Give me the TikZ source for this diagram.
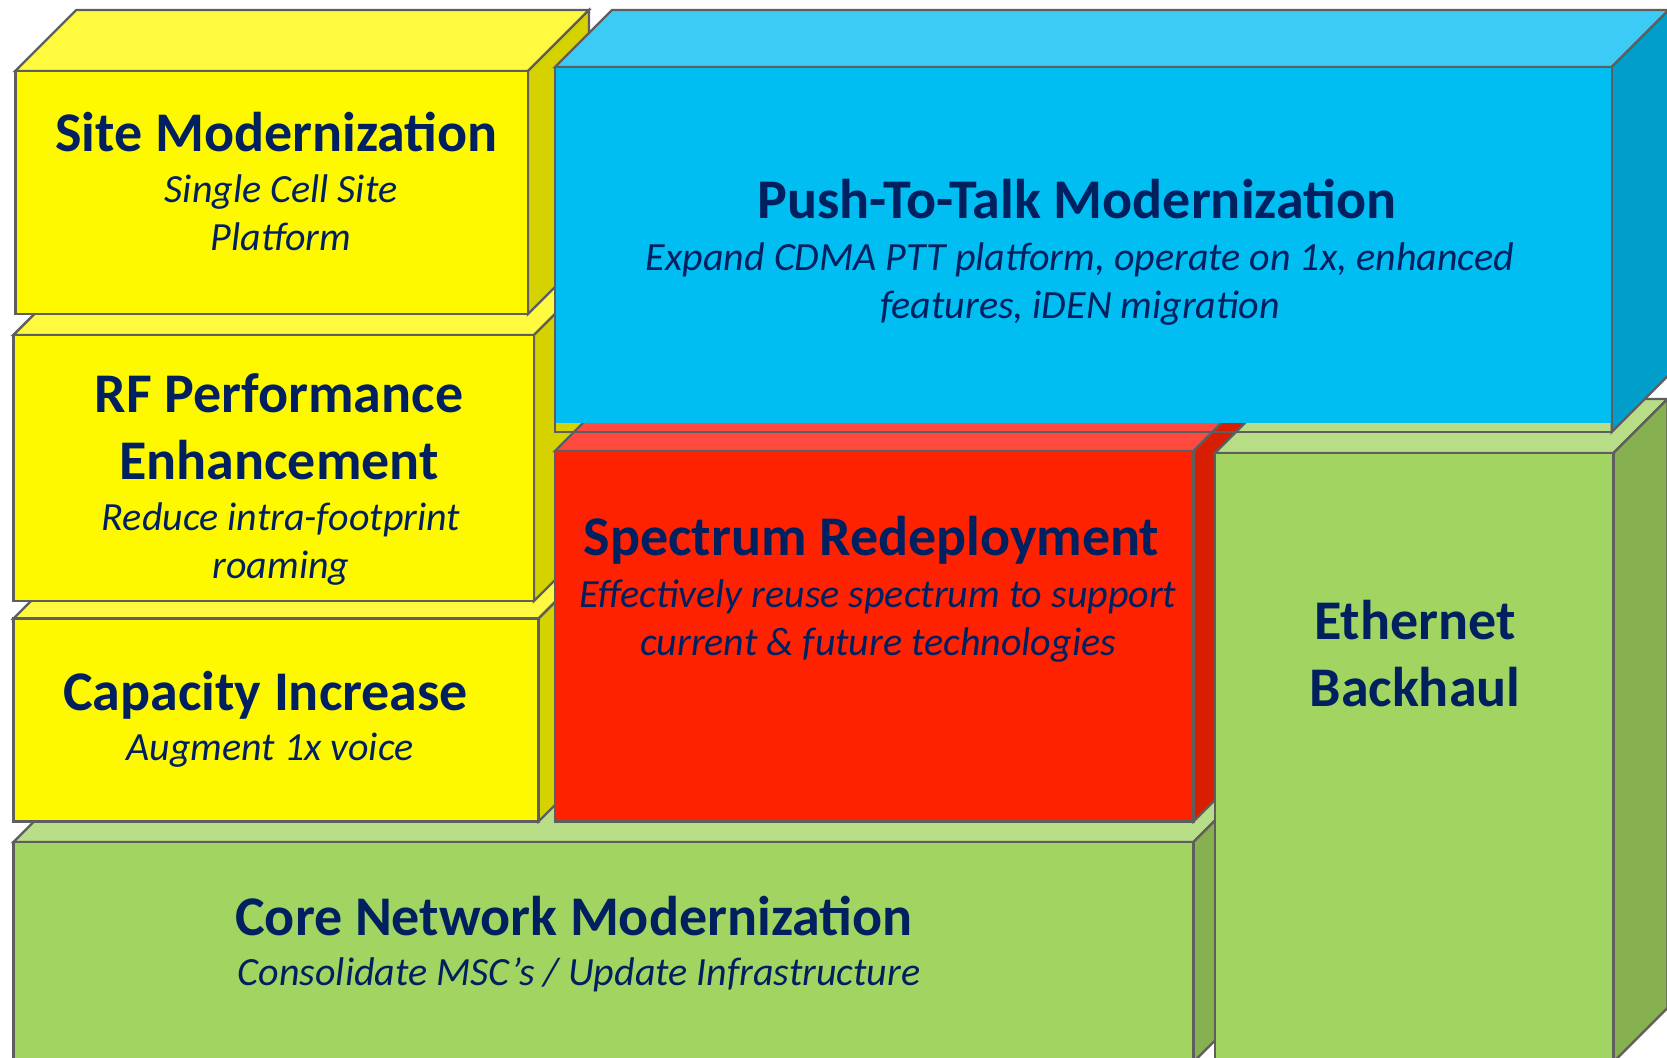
\documentclass[tikz,border=0pt]{standalone}
\usepackage{fontspec}
\setmainfont{Carlito}
\usetikzlibrary{calc}

\definecolor{edgegray}{HTML}{5E5E5E}
\definecolor{navytext}{HTML}{002060}
\definecolor{yellowfront}{HTML}{FFF900}
\definecolor{yellowtop}{HTML}{FFFA40}
\definecolor{yellowside}{HTML}{D5D200}
\definecolor{bluefront}{HTML}{00BEF2}
\definecolor{bluetop}{HTML}{3CCBF5}
\definecolor{blueside}{HTML}{009FCB}
\definecolor{redfront}{HTML}{FF2200}
\definecolor{redtop}{HTML}{FF4A3F}
\definecolor{redside}{HTML}{D81E00}
\definecolor{greenfront}{HTML}{A1D461}
\definecolor{greentop}{HTML}{B7DE87}
\definecolor{greenside}{HTML}{87B050}

\tikzset{
  edge/.style={draw=edgegray, line width=2.4pt, line join=miter},
  boxtitle/.style={text=navytext, font=\fontsize{56}{67}\selectfont\bfseries,
    align=center, anchor=base, inner sep=0pt},
  boxnote/.style={text=navytext, font=\fontsize{40}{48}\selectfont\itshape,
    align=center, anchor=base, inner sep=0pt},
}

% 立方块: 左上x, 左上y, 右下x, 右下y, 厚度, 颜色
\newcommand{\drawblock}[6]{%
  \filldraw[edge, fill=#6top] (#1,#2) -- ++(#5,-#5) -- (#3+#5,#2-#5) -- (#3,#2) -- cycle;
  \filldraw[edge, fill=#6side] (#3,#2) -- (#3+#5,#2-#5) -- (#3+#5,#4-#5) -- (#3,#4) -- cycle;
  \filldraw[edge, fill=#6front] (#1,#2) rectangle (#3,#4);
}

\begin{document}
\begin{tikzpicture}[x=1pt, y=-1pt]
  \useasboundingbox (0,0) rectangle (1667,1057);
  \clip (0,0) rectangle (1667,1057);
  %最底层的绿色长条
  \drawblock{13.5}{842}{1193.5}{1062}{57}{green}
  %左边三块黄色, 从下往上画
  \drawblock{13.4}{618.6}{538.5}{821.5}{60}{yellow}
  \drawblock{13.4}{335}{534}{601}{60}{yellow}
  \drawblock{15.3}{71}{528}{314}{61}{yellow}
  %中间红色块
  \drawblock{555}{451}{1193.5}{821.5}{57}{red}
  %右边绿色竖条
  \drawblock{1215}{453}{1613.5}{1062}{54}{green}
  %上面蓝色块, 正面填色比边框短一点
  \filldraw[edge, fill=bluetop] (555,67) -- ++(57,-57) -- (1668.7,10) -- (1611.7,67) -- cycle;
  \filldraw[edge, fill=blueside] (1611.7,67) -- (1668.7,10) -- (1668.7,375) -- (1611.7,432) -- cycle;
  \fill[bluefront] (555,67) rectangle (1611.7,423);
  \draw[edge] (555,67) rectangle (1611.7,432);

  %文字 (多行的结点以最后一行为基线)
  \node[boxtitle] (sm-title) at (276.5,151.7) {Site Modernization};
  \node[boxnote] (sm-note) at (281,250) {Single Cell Site\\Platform};
  \node[boxtitle] (rf-title) at (279,479.3) {RF Performance\\Enhancement};
  \node[boxnote] (rf-note) at (281,578) {Reduce intra-footprint\\roaming};
  \node[boxtitle] (ci-title) at (265.6,710) {Capacity Increase};
  \node[boxnote] (ci-note) at (270,760.7) {Augment 1x voice};
  \node[boxtitle] (ptt-title) at (1077,218.3) {Push-To-Talk Modernization};
  \node[boxnote] (ptt-note) at (1080,318.3) {Expand CDMA PTT platform, operate on 1x, enhanced\\features, iDEN migration};
  \node[boxtitle] (sr-title) at (871.4,555) {Spectrum Redeployment};
  \node[boxnote] (sr-note) at (878,655) {Effectively reuse spectrum to support\\current \& future technologies};
  \node[boxtitle] (eb-title) at (1415,706) {Ethernet\\Backhaul};
  \node[boxtitle] (cn-title) at (574,935) {Core Network Modernization};
  \node[boxnote] (cn-note) at (579,985) {Consolidate MSC’s / Update Infrastructure};
\end{tikzpicture}
\end{document}
